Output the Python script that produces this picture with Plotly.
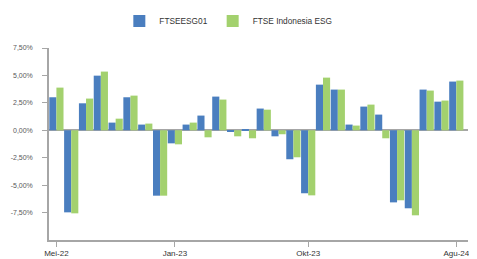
import plotly.graph_objects as go

months = ["Mei-22","Jun-22","Jul-22","Agu-22","Sep-22","Okt-22","Nov-22","Des-22",
          "Jan-23","Feb-23","Mar-23","Apr-23","Mei-23","Jun-23","Jul-23","Agu-23",
          "Sep-23","Okt-23","Nov-23","Des-23","Jan-24","Feb-24","Mar-24","Apr-24",
          "Mei-24","Jun-24","Jul-24","Agu-24"]
ftseesg01 = [3.01,-7.48,2.46,4.98,0.70,3.01,0.52,-5.96,
             -1.19,0.52,1.34,3.07,-0.09,0.06,1.98,-0.55,
             -2.64,-5.74,4.16,3.71,0.52,2.16,1.43,-6.57,
             -7.11,3.71,2.61,4.44]
ftse_indo_esg = [3.89,-7.57,2.89,5.35,1.06,3.16,0.61,-5.96,
                 -1.28,0.70,-0.64,2.80,-0.55,-0.73,1.88,-0.36,
                 -2.46,-5.93,4.80,3.71,0.43,2.34,-0.73,-6.38,
                 -7.75,3.62,2.71,4.53]
y_ticks = [-7.5,-5.0,-2.5,0.0,2.5,5.0,7.5]
y_tick_text = ["-7,50%","-5,00%","-2,50%","0,00%","2,50%","5,00%","7,50%"]
x_ticks = ["Mei-22","Jan-23","Okt-23","Agu-24"]

blue = "#4A7EBF"
green = "#A3D16E"
grey = "#A6A6A6"

fig = go.Figure()
fig.add_trace(go.Bar(x=months, y=ftseesg01, name="FTSEESG01", marker_color=blue, marker_line_width=0))
fig.add_trace(go.Bar(x=months, y=ftse_indo_esg, name="FTSE Indonesia ESG", marker_color=green, marker_line_width=0))

# page body has an 8px default margin, so the figure is sized 8px smaller
fig.update_layout(
    width=469, height=251,
    margin=dict(l=41, r=9, t=40, b=19, autoexpand=False),
    paper_bgcolor="white", plot_bgcolor="white",
    barmode="group", bargap=0.04, bargroupgap=0,
    font=dict(family="Liberation Sans, Arial, sans-serif", size=8, color="#404040"),
    showlegend=True,
    legend=dict(orientation="h", x=0.428, xanchor="center", y=1.14, yanchor="middle",
                font=dict(size=8.3, color="#333333"), itemwidth=30, traceorder="normal"),
)
fig.update_xaxes(
    type="category", range=[-0.5, 27.79], automargin=False,
    tickmode="array", tickvals=x_ticks, ticktext=x_ticks,
    showline=True, linecolor=grey, linewidth=1.5,
    ticks="outside", ticklen=5, tickcolor=grey, tickwidth=1,
    showgrid=False, zeroline=False,
    tickfont=dict(size=8, color="#333333"),
)
fig.update_yaxes(
    range=[-10, 7.5], automargin=False,
    tickmode="array", tickvals=y_ticks, ticktext=y_tick_text,
    showline=True, linecolor=grey, linewidth=1.5,
    ticks="outside", ticklen=5, tickcolor=grey, tickwidth=1, ticklabelstandoff=8,
    showgrid=False, zeroline=True, zerolinecolor=grey, zerolinewidth=2,
    tickfont=dict(size=7, color="#595959"),
)
fig.write_html("out.html")
